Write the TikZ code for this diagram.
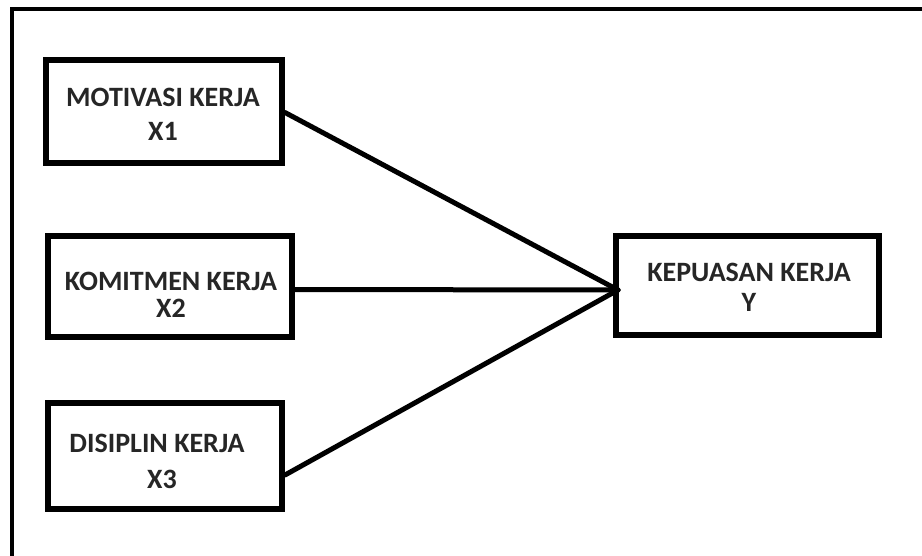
\documentclass[tikz,border=0pt]{standalone}
\usepackage{fontspec}
\setmainfont{Carlito}
\begin{document}
\begin{tikzpicture}[x=1pt,y=-1pt,
  varbox/.style={draw=black,line width=6pt,fill=white,inner sep=0pt},
  lbl/.style={align=center,inner sep=0pt,text=black!85,
    font=\fontsize{28}{31}\selectfont\bfseries},
  link/.style={line width=5pt,line cap=round}]
\useasboundingbox (0,0) rectangle (922,555);
\fill[white] (0,0) rectangle (922,555);
\draw[line width=4pt] (12,560) -- (12,9) -- (930,9);
\node[varbox,minimum width=236pt,minimum height=103pt] (b1) at (164,111.5) {};
\node[varbox,minimum width=244pt,minimum height=101pt] (b2) at (170,286.5) {};
\node[varbox,minimum width=234pt,minimum height=106pt] (b3) at (165,456) {};
\node[varbox,minimum width=263pt,minimum height=99pt] (y) at (747.5,285.5) {};
\node[lbl] (t1) at (163,114.5) {MOTIVASI KERJA\\[3pt]X1};
\node[lbl] (t2) at (171,294.5) {KOMITMEN KERJA\\[-4pt]X2};
\node[lbl] (t3) at (157,461) {DISIPLIN KERJA\\[5pt]\hspace*{10pt}X3};
\node[lbl] (ty) at (749,287) {KEPUASAN KERJA\\[-1pt]Y};
\coordinate (m) at (618,290);
\draw[link] ([yshift=-1pt]b1.east) -- (m);
\draw[link] ([yshift=-3pt]b2.east) -- (m);
\draw[link] ([yshift=-19pt]b3.east) -- (m);
\end{tikzpicture}
\end{document}
